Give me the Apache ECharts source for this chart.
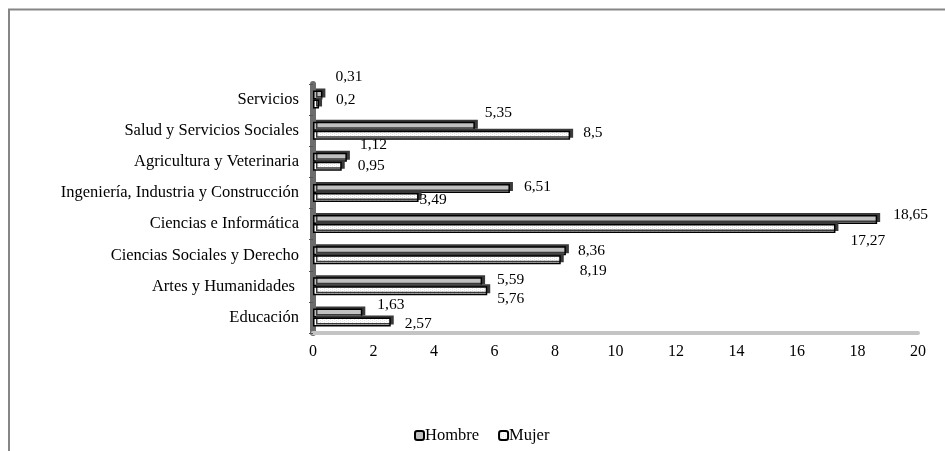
<!DOCTYPE html>
<html>
<head>
<meta charset="utf-8">
<script src="https://cdn.jsdelivr.net/npm/echarts@6/dist/echarts.min.js"></script>
<style>
  html, body { margin: 0; padding: 0; background: #fff; }
  #chart { width: 945px; height: 451px; }
</style>
</head>
<body>
<div id="chart"></div>
<script>
// Areas of study, listed top to bottom
const categories = [
  'Servicios',
  'Salud y Servicios Sociales',
  'Agricultura y Veterinaria',
  'Ingeniería, Industria y Construcción',
  'Ciencias e Informática',
  'Ciencias Sociales y Derecho',
  'Artes y Humanidades ',
  'Educación'
];
const hombre = [0.31, 5.35, 1.12, 6.51, 18.65, 8.36, 5.59, 1.63];
const mujer  = [0.2, 8.5, 0.95, 3.49, 17.27, 8.19, 5.76, 2.57];
const xTicks = { min: 0, max: 20, interval: 2 };

// Per-label nudges [dx, dy] so value labels sit clear of neighbouring bars
const hombreLabelNudge = [[8, -18], [5, -13], [8, -12], [9, -2], [11, -5], [7, 0], [10, -2], [10, -8]];
const mujerLabelNudge  = [[12, -4], [8, -2], [11, 0], [-4, 2], [10, 12], [14, 11], [5, 8], [9, 2]];

// Fine dotted fill used for the Mujer bars
function dotPattern() {
  const c = document.createElement('canvas');
  c.width = 4; c.height = 2;
  const g = c.getContext('2d');
  g.fillStyle = '#ffffff';
  g.fillRect(0, 0, 4, 2);
  g.fillStyle = '#e2e2e2';
  g.fillRect(0, 0, 1, 1);
  g.fillRect(2, 1, 1, 1);
  return c;
}

const fmt = p => String(p.value).replace('.', ',');
const FONT = '"Liberation Serif", "DejaVu Serif", serif';

function withLabels(values, nudges) {
  return values.map((v, i) => ({ value: v, label: { offset: nudges[i] } }));
}

const barStyle = {
  borderColor: '#000',
  borderWidth: 1.5,
  shadowColor: '#3a3a3a',
  shadowBlur: 0,
  shadowOffsetX: 3,
  shadowOffsetY: -2
};

const chart = echarts.init(document.getElementById('chart'), null, { renderer: 'canvas' });
chart.setOption({
  animation: false,
  backgroundColor: '#ffffff',
  textStyle: { fontFamily: FONT, color: '#000' },
  graphic: [{
    type: 'polyline',
    shape: { points: [[9, 451], [9, 9.5], [945, 9.5]] },
    style: { stroke: '#868686', lineWidth: 2, fill: null },
    silent: true
  }],
  legend: {
    data: ['Hombre', 'Mujer'],
    left: 409,
    top: 422,
    itemWidth: 9,
    itemHeight: 9,
    itemGap: 19,
    textStyle: { fontFamily: FONT, fontSize: 16.5, color: '#000', padding: [0, 0, 0, -4] }
  },
  grid: { left: 313, right: 27, top: 84, bottom: 118, containLabel: false },
  xAxis: {
    type: 'value',
    min: xTicks.min,
    max: xTicks.max,
    interval: xTicks.interval,
    splitLine: { show: false },
    axisTick: { show: false },
    axisLine: { show: true, lineStyle: { color: '#c4c4c4', width: 4 } },
    axisLabel: { fontFamily: FONT, fontSize: 16, color: '#000', margin: 11 }
  },
  yAxis: {
    type: 'category',
    data: categories,
    inverse: true,
    axisLine: { show: true, lineStyle: { color: '#6c6c6c', width: 6 } },
    axisTick: { show: true, length: 4, lineStyle: { color: '#555', width: 1 } },
    axisLabel: { fontFamily: FONT, fontSize: 16.5, color: '#000', margin: 14 }
  },
  series: [
    {
      name: 'Hombre',
      type: 'bar',
      barWidth: 9,
      barGap: '0%',
      data: withLabels(hombre, hombreLabelNudge),
      itemStyle: Object.assign({ color: '#c0c0c0' }, barStyle),
      label: { show: true, position: 'right', distance: 5, formatter: fmt,
               fontFamily: FONT, fontSize: 15.5, color: '#000' }
    },
    {
      name: 'Mujer',
      type: 'bar',
      barWidth: 9,
      barGap: '0%',
      data: withLabels(mujer, mujerLabelNudge),
      itemStyle: Object.assign({ color: { image: dotPattern(), repeat: 'repeat' } }, barStyle),
      label: { show: true, position: 'right', distance: 5, formatter: fmt,
               fontFamily: FONT, fontSize: 15.5, color: '#000' }
    }
  ]
});
</script>
</body>
</html>
